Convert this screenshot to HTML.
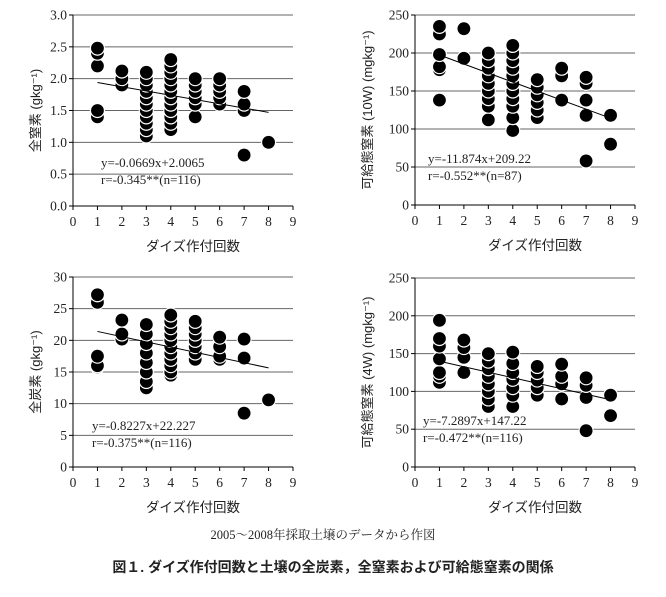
<!DOCTYPE html><html><head><meta charset="utf-8"><style>
body{margin:0;background:#fff;width:666px;height:592px;overflow:hidden}
svg text{font-family:"Liberation Serif","Noto Serif CJK SC",serif;fill:#222}
.j{font-family:"Liberation Sans","Noto Sans CJK JP",sans-serif}
</style></head><body>
<svg id="s" width="666" height="592" xmlns="http://www.w3.org/2000/svg">
<text x="323" y="539" text-anchor="middle" font-size="12.5">2005～2008年採取土壌のデータから作図</text>
<text x="333" y="572" text-anchor="middle" font-size="14" font-weight="bold" class="j">図１.  ダイズ作付回数と土壌の全炭素，全窒素および可給態窒素の関係</text>
</svg>
<script>
const S=document.getElementById('s'),N='http://www.w3.org/2000/svg';
function el(t,a,tx){const e=document.createElementNS(N,t);for(const k in a)e.setAttribute(k,a[k]);if(tx!=null)e.textContent=tx;S.appendChild(e);return e}
function panel(o){
 const X=v=>o.x0+(o.x9-o.x0)*v/9, Y=v=>o.yb+(o.yt-o.yb)*v/o.ymax;
 for(let i=0;i<=o.n;i++){const v=o.ymax*i/o.n,y=Y(v);
  if(i>0)el('line',{x1:o.x0,x2:o.x9,y1:y,y2:y,stroke:'#666','stroke-width':1});
  el('line',{x1:o.x0-4,x2:o.x0,y1:y,y2:y,stroke:'#000'});
  el('text',{x:o.x0-6,y:y+4.5,'text-anchor':'end','font-size':13.5},o.fmt(v));}
 el('line',{x1:o.x0,x2:o.x0,y1:o.yt,y2:o.yb,stroke:'#000'});
 el('line',{x1:o.x0,x2:o.x9,y1:o.yb,y2:o.yb,stroke:'#000'});
 for(let i=0;i<=9;i++){el('line',{x1:X(i),x2:X(i),y1:o.yb,y2:o.yb+4,stroke:'#000'});
  el('text',{x:X(i),y:o.yb+20,'text-anchor':'middle','font-size':13.5},i);}
 el('text',{x:(o.x0+o.x9)/2+10,y:o.yb+45,'text-anchor':'middle','font-size':13.5,class:'j'},'ダイズ作付回数');
 el('text',{x:0,y:0,'text-anchor':'middle','font-size':13,class:'j',transform:`translate(${o.lx},${(o.yt+o.yb)/2}) rotate(-90)`},o.lab);
 for(const k in o.d)for(const v of o.d[k])el('circle',{cx:X(+k),cy:Y(v),r:7,fill:'#000',stroke:'#fff','stroke-width':1.2});
 el('line',{x1:X(1),x2:X(8),y1:Y(o.a*1+o.b),y2:Y(o.a*8+o.b),stroke:'#000','stroke-width':1});
 el('text',{x:o.tx,y:o.ty,'font-size':13},o.e1);el('text',{x:o.tx,y:o.ty+17,'font-size':13},o.e2);
}
panel({x0:73,x9:293,yt:15,yb:206,ymax:3,n:6,fmt:v=>v.toFixed(1),lx:40,lab:'全窒素 (gkg⁻¹)',a:-0.0669,b:2.0065,tx:101,ty:167,e1:'y=-0.0669x+2.0065',e2:'r=-0.345**(n=116)',
 d:{1:[1.4,1.5,2.2,2.4,2.48],2:[1.9,2.0,2.12],3:[1.1,1.2,1.3,1.4,1.5,1.6,1.7,1.8,1.9,2.0,2.1],4:[1.2,1.3,1.4,1.5,1.6,1.7,1.8,1.9,2.0,2.1,2.2,2.3],5:[1.4,1.6,1.7,1.8,1.9,2.0],6:[1.6,1.7,1.8,1.9,2.0],7:[0.8,1.5,1.6,1.8],8:[1.0]}});
panel({x0:415,x9:635,yt:15,yb:205,ymax:250,n:5,fmt:v=>v,lx:372,lab:'可給態窒素 (10W) (mgkg⁻¹)',a:-11.874,b:209.22,tx:428,ty:163,e1:'y=-11.874x+209.22',e2:'r=-0.552**(n=87)',
 d:{1:[138,178,182,198,225,235],2:[193,232],3:[112,130,140,150,160,170,180,190,200],4:[98,115,130,140,150,160,170,180,190,200,210],5:[115,125,135,145,155,165],6:[138,170,180],7:[58,118,138,160,168],8:[80,118]}});
panel({x0:73,x9:293,yt:277,yb:467,ymax:30,n:6,fmt:v=>v,lx:40,lab:'全炭素 (gkg⁻¹)',a:-0.8227,b:22.227,tx:92,ty:430,e1:'y=-0.8227x+22.227',e2:'r=-0.375**(n=116)',
 d:{1:[15.8,16,17.5,26,27.2],2:[20.2,21,23.2],3:[12.5,13.5,15,16.5,18,19.5,21,22.5],4:[14.5,15,16,17,18,19,20,21,22,23,24],5:[17,18,19,20,21,22,23],6:[17,17.5,19,20.5],7:[8.5,17.2,20.2],8:[10.6]}});
panel({x0:415,x9:635,yt:278,yb:467,ymax:250,n:5,fmt:v=>v,lx:372,lab:'可給態窒素 (4W) (mgkg⁻¹)',a:-7.2897,b:147.22,tx:423,ty:425,e1:'y=-7.2897x+147.22',e2:'r=-0.472**(n=116)',
 d:{1:[112,120,125,143,160,170,194],2:[125,145,158,168],3:[80,90,100,110,120,130,140,150],4:[80,95,105,116,125,137,152],5:[95,105,115,125,133],6:[90,110,120,136],7:[48,92,108,118],8:[68,95]}});
</script></body></html>
